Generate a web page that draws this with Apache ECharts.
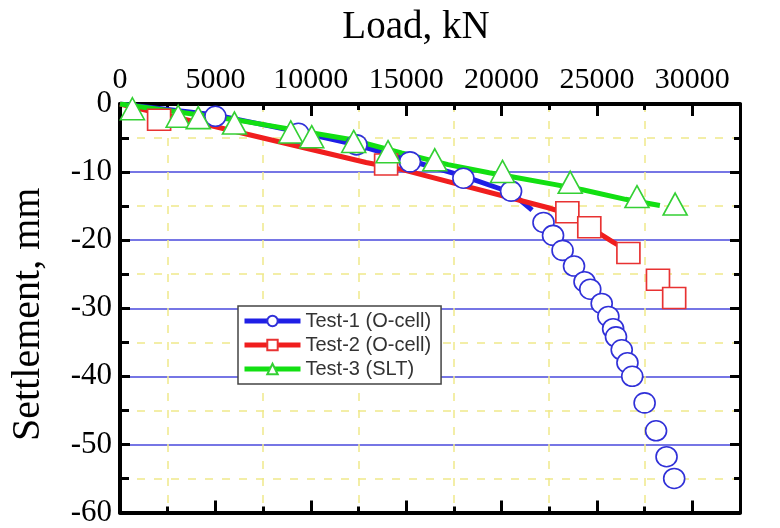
<!DOCTYPE html>
<html>
<head>
<meta charset="utf-8">
<script src="https://cdn.jsdelivr.net/npm/echarts@6/dist/echarts.min.js"></script>
<style>
html,body{margin:0;padding:0;background:#fff;}
#chart{width:780px;height:528px;}
</style>
</head>
<body>
<div id="chart"></div>
<script>
// ---- data (load in kN, settlement in mm) ----
const loadTickLabels = [0, 5000, 10000, 15000, 20000, 25000, 30000];
const settlementTickLabels = [0, -10, -20, -30, -40, -50, -60];

const seriesNames = ['Test-1 (O-cell)', 'Test-2 (O-cell)', 'Test-3 (SLT)'];

// continuous records (thick lines)
const test1Curve = [[0,0],[5000,-1.6],[9350,-4.1],[12400,-6.0],[15200,-8.3],[18000,-10.6],[20500,-13.0],[21600,-15.6]];
const test2Curve = [[0,0],[12900,-8.6],[14750,-9.6],[22400,-15.2],[23450,-16.1],[24600,-18.1],[25850,-20.3],[26650,-21.6]];
const test3Curve = [[0,0],[6000,-2.3],[12250,-5.3],[14750,-7.2],[17200,-8.9],[19350,-10.1],[20750,-10.8],[22750,-11.8],[24250,-12.6],[26500,-14.0],[28300,-14.9]];

// load-stage markers
const test1Points = [[5000,-1.8],[9350,-4.3],[12400,-6.0],[15200,-8.5],[18000,-10.9],[20500,-12.8],[22200,-17.4],[22700,-19.3],[23200,-21.5],[23800,-23.8],[24350,-26.1],[24650,-27.2],[25250,-29.3],[25600,-31.2],[25850,-33.0],[26000,-34.2],[26300,-36.1],[26600,-38.0],[26850,-40.0],[27500,-43.9],[28100,-48.0],[28650,-51.8],[29050,-55.0]];
const test2Points = [[2050,-2.3],[13950,-8.9],[23450,-15.9],[24600,-18.1],[26650,-21.9],[28200,-25.8],[29050,-28.5]];
const test3Points = [[650,-0.7],[3050,-1.8],[4100,-2.0],[6000,-2.8],[8950,-4.1],[10050,-4.8],[12250,-5.5],[14050,-7.0],[16500,-8.2],[20050,-9.9],[23600,-11.5],[27100,-13.6],[29100,-14.7]];

const lineColors = ['#1f1fe6', '#f01e1e', '#12e012'];
const markerColors = ['#3030d8', '#e83232', '#34d034'];
const markerShapes = ['circle', 'rect', 'triangle'];
const markerSizes = [[21,20],[23,21],[24,22]];

const serif = 'Liberation Serif';
const gridYellow = '#efe98a';

const chart = echarts.init(document.getElementById('chart'), null, {renderer:'canvas'});

function frameAxis(extra) {
  return Object.assign({
    axisLine: {show:true, onZero:false, lineStyle:{color:'#000', width:4}},
    axisTick: {show:true, inside:true, length:12, lineStyle:{color:'#000', width:3}},
    minorTick: {show:true, splitNumber:2, length:6, lineStyle:{color:'#000', width:3}},
    axisLabel: {show:false},
    splitLine: {show:false},
    minorSplitLine: {show:false}
  }, extra);
}

const curves = [test1Curve, test2Curve, test3Curve];
const points = [test1Points, test2Points, test3Points];

const series = [];
for (let i = 0; i < 3; i++) {
  series.push({
    name: seriesNames[i], type:'line', data: curves[i],
    xAxisIndex:0, yAxisIndex:0,
    symbol: markerShapes[i], showSymbol:false, symbolSize:12,
    itemStyle:{color:'#fff', borderColor:markerColors[i], borderWidth:1.5, opacity:1},
    lineStyle:{color:lineColors[i], width:5},
    z: 3 + i, silent:true
  });
}
for (let i = 0; i < 3; i++) {
  series.push({
    name: seriesNames[i], type:'scatter', data: points[i],
    xAxisIndex:0, yAxisIndex:0,
    symbol: markerShapes[i], symbolSize: markerSizes[i],
    itemStyle:{color:'#fff', borderColor:markerColors[i], borderWidth:1.6, opacity:1},
    z: 10 + i
  });
}

chart.setOption({
  animation:false,
  backgroundColor:'#fff',
  grid:{left:118, top:104, right:40, bottom:13, containLabel:false},
  legend:{
    data: seriesNames,
    orient:'vertical', left:238, top:306,
    backgroundColor:'#fff', borderColor:'#444', borderWidth:1.5, borderRadius:0,
    padding:[5,10,5,4],
    itemWidth:56, itemHeight:13, itemGap:4,
    lineStyle:{width:5},
    textStyle:{fontFamily:'Liberation Sans', fontSize:20, color:'#333'},
    z: 20
  },
  xAxis:[
    frameAxis({
      type:'value', position:'top', min:0, max:32500, interval:5000,
      axisLabel:{show:true, fontFamily:serif, fontSize:30, color:'#000', margin:9,
        formatter: v => loadTickLabels.includes(v) ? String(v) : ''},
      minorSplitLine:{show:true, lineStyle:{color:gridYellow, width:1.5, type:[8,9]}},
      name:'Load, kN', nameLocation:'middle', nameGap:57,
      nameTextStyle:{fontFamily:serif, fontSize:39, color:'#000', padding:[0,28,0,0]}
    }),
    frameAxis({type:'value', position:'bottom', min:0, max:32500, interval:5000})
  ],
  yAxis:[
    frameAxis({
      type:'value', position:'left', min:-60, max:0, interval:10,
      axisTick:{show:true, inside:true, length:10, lineStyle:{color:'#000', width:3}},
      minorTick:{show:true, splitNumber:2, length:9, lineStyle:{color:'#000', width:3}},
      axisLabel:{show:true, fontFamily:serif, fontSize:31, color:'#000', margin:8,
        formatter: v => settlementTickLabels.includes(v) ? String(v) : ''},
      splitLine:{show:true, lineStyle:{color:'#4848dc', width:1.5}},
      minorSplitLine:{show:true, lineStyle:{color:gridYellow, width:1.5, type:[8,9]}},
      name:'Settlement, mm', nameLocation:'middle', nameGap:72, nameRotate:90,
      nameTextStyle:{fontFamily:serif, fontSize:40, color:'#000', padding:[0,12,0,0]}
    }),
    frameAxis({type:'value', position:'right', min:-60, max:0, interval:10,
      axisLine:{show:true, onZero:false, lineStyle:{color:'#000', width:3}},
      axisTick:{show:true, inside:true, length:10, lineStyle:{color:'#000', width:3}},
      minorTick:{show:true, splitNumber:2, length:6, lineStyle:{color:'#000', width:3}}})
  ],
  series: series
});
</script>
</body>
</html>
